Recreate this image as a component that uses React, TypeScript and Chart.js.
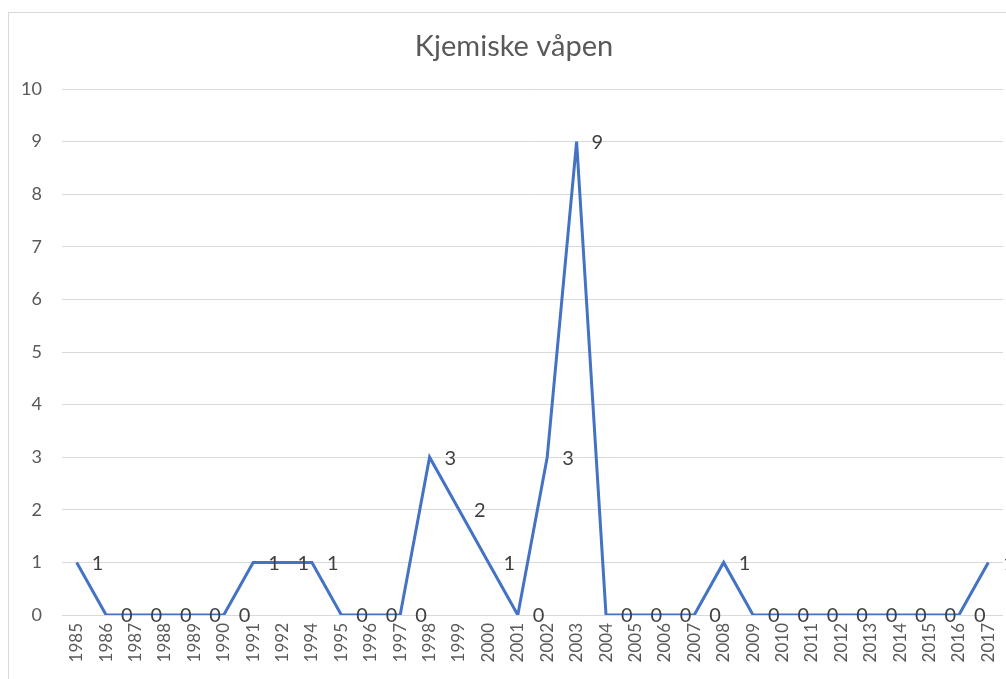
import React, { useEffect, useRef } from "react";
import { Chart, registerables } from "chart.js";

Chart.register(...registerables);

const title = "Kjemiske våpen";
const years = [
  "1985", "1986", "1987", "1988", "1989", "1990", "1991", "1992", "1994", "1995", "1996",
  "1997", "1998", "1999", "2000", "2001", "2002", "2003", "2004", "2005", "2006", "2007",
  "2008", "2009", "2010", "2011", "2012", "2013", "2014", "2015", "2016", "2017",
];
const values = [
  1, 0, 0, 0, 0, 0, 1, 1, 1, 0, 0,
  0, 3, 2, 1, 0, 3, 9, 0, 0, 0, 0,
  1, 0, 0, 0, 0, 0, 0, 0, 0, 1,
];
const yTicks = [0, 1, 2, 3, 4, 5, 6, 7, 8, 9, 10];

const FONT = "Lato, 'Open Sans', sans-serif";

const decorPlugin = {
  id: "decor",
  beforeDraw(chart: any) {
    const ctx = chart.ctx;
    ctx.save();
    ctx.strokeStyle = "#d9d9d9";
    ctx.lineWidth = 1;
    ctx.strokeRect(8.5, 12.5, 1100, 800);
    ctx.fillStyle = "#595959";
    ctx.font = `29px ${FONT}`;
    ctx.textAlign = "center";
    ctx.textBaseline = "middle";
    ctx.fillText(title, 514, 47);
    ctx.restore();
  },
  afterDatasetsDraw(chart: any) {
    const ctx = chart.ctx;
    const meta = chart.getDatasetMeta(0);
    ctx.save();
    ctx.fillStyle = "#404040";
    ctx.font = `20px ${FONT}`;
    ctx.textAlign = "left";
    ctx.textBaseline = "middle";
    meta.data.forEach((pt: any, i: number) => {
      ctx.fillText(String(values[i]), pt.x + 15, pt.y + 1);
    });
    ctx.restore();
  },
};

export default function App() {
  const ref = useRef<HTMLCanvasElement | null>(null);
  useEffect(() => {
    if (!ref.current) return;
    const chart = new Chart(ref.current, {
      type: "line",
      data: {
        labels: years,
        datasets: [
          {
            data: values,
            borderColor: "#4472C4",
            borderWidth: 3,
            pointRadius: 0,
            tension: 0,
            fill: false,
          },
        ],
      },
      options: {
        animation: false,
        responsive: false,
        layout: { padding: { left: 0, right: 3, top: 89, bottom: 0 } },
        plugins: { legend: { display: false }, title: { display: false }, tooltip: { enabled: false } },
        scales: {
          x: {
            offset: true,
            grid: { display: false, drawTicks: false, offset: true },
            border: { display: false },
            ticks: {
              color: "#595959",
              font: { family: FONT, size: 17 },
              minRotation: 90,
              maxRotation: 90,
              autoSkip: false,
              padding: 8,
            },
            afterFit: (s: any) => {
              s.height = 64;
              s.paddingLeft = 0;
              s.paddingRight = 0;
            },
          },
          y: {
            min: 0,
            max: 10,
            afterBuildTicks: (s: any) => {
              s.ticks = yTicks.map((v) => ({ value: v }));
            },
            grid: { color: "#d9d9d9", lineWidth: 1, drawTicks: false },
            border: { display: false },
            ticks: {
              color: "#595959",
              font: { family: FONT, size: 18 },
              padding: 20,
            },
            afterFit: (s: any) => {
              s.width = 62;
              s.paddingTop = 0;
              s.paddingBottom = 0;
            },
          },
        },
      },
      plugins: [decorPlugin],
    });
    return () => chart.destroy();
  }, []);
  return (
    <div style={{ position: "absolute", left: 0, top: 0, width: 1006, height: 679 }}>
      <canvas ref={ref} width={1006} height={679} />
    </div>
  );
}
